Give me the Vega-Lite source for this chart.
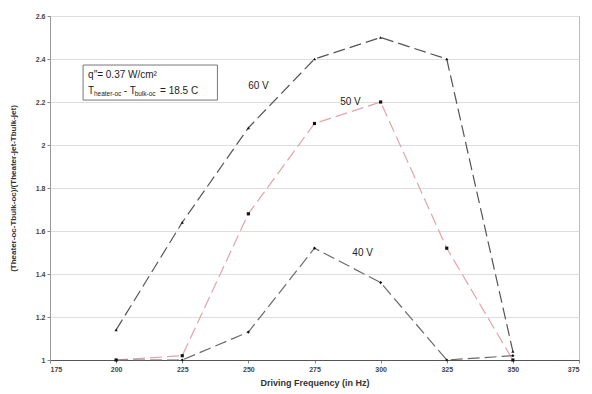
{
  "$schema": "https://vega.github.io/schema/vega-lite/v6.json",
  "width": 529,
  "height": 344,
  "autosize": {"type": "none"},
  "padding": {"left": 50, "top": 16, "right": 13, "bottom": 34},
  "background": "white",
  "config": {
    "view": {"stroke": "#bbbbbb", "strokeWidth": 1},
    "font": "Liberation Sans",
    "axis": {
      "labelFont": "Liberation Sans",
      "labelFontWeight": "bold",
      "labelFontSize": 7,
      "labelColor": "#444444",
      "titleFont": "Liberation Sans",
      "titleFontWeight": "bold",
      "titleColor": "#333333",
      "tickColor": "#888888",
      "tickSize": 3
    }
  },
  "datasets": {
    "series": [
      {"freq": 200, "ratio": 1.14, "series": "60 V"},
      {"freq": 225, "ratio": 1.64, "series": "60 V"},
      {"freq": 250, "ratio": 2.08, "series": "60 V"},
      {"freq": 275, "ratio": 2.4, "series": "60 V"},
      {"freq": 300, "ratio": 2.5, "series": "60 V"},
      {"freq": 325, "ratio": 2.4, "series": "60 V"},
      {"freq": 350, "ratio": 1.04, "series": "60 V"},
      {"freq": 200, "ratio": 1.0, "series": "50 V"},
      {"freq": 225, "ratio": 1.02, "series": "50 V"},
      {"freq": 250, "ratio": 1.68, "series": "50 V"},
      {"freq": 275, "ratio": 2.1, "series": "50 V"},
      {"freq": 300, "ratio": 2.2, "series": "50 V"},
      {"freq": 325, "ratio": 1.52, "series": "50 V"},
      {"freq": 350, "ratio": 1.0, "series": "50 V"},
      {"freq": 200, "ratio": 1.0, "series": "40 V"},
      {"freq": 225, "ratio": 1.0, "series": "40 V"},
      {"freq": 250, "ratio": 1.13, "series": "40 V"},
      {"freq": 275, "ratio": 1.52, "series": "40 V"},
      {"freq": 300, "ratio": 1.36, "series": "40 V"},
      {"freq": 325, "ratio": 1.0, "series": "40 V"},
      {"freq": 350, "ratio": 1.02, "series": "40 V"}
    ],
    "labels": [
      {"freq": 253.8, "ratio": 2.274, "text": "60 V"},
      {"freq": 288.6, "ratio": 2.2, "text": "50 V"},
      {"freq": 293.2, "ratio": 1.498, "text": "40 V"}
    ],
    "box": [
      {"x1": 187.5, "x2": 238.3, "y1": 2.209, "y2": 2.372}
    ],
    "boxText": [
      {"freq": 189.4, "ratio": 2.326, "text": "q″= 0.37 W/cm²"},
      {"freq": 189.4, "ratio": 2.251, "text": "T"},
      {"freq": 202.9, "ratio": 2.251, "text": "- T"},
      {"freq": 216.6, "ratio": 2.251, "text": "= 18.5 C"}
    ],
    "boxSub": [
      {"freq": 191.6, "ratio": 2.236, "text": "heater-oc"},
      {"freq": 207.0, "ratio": 2.236, "text": "bulk-oc"}
    ]
  },
  "layer": [
    {
      "data": {"name": "series"},
      "mark": {"type": "line", "strokeDash": [12, 5], "strokeWidth": 1.2},
      "encoding": {
        "x": {
          "field": "freq", "type": "quantitative",
          "scale": {"domain": [175, 375], "nice": false},
          "axis": {
            "values": [175, 200, 225, 250, 275, 300, 325, 350, 375],
            "title": "Driving Frequency (in Hz)",
            "titleFontSize": 9,
            "titlePadding": 6,
            "grid": false,
            "domainColor": "#555555",
            "domainWidth": 1.2
          }
        },
        "y": {
          "field": "ratio", "type": "quantitative",
          "scale": {"domain": [1, 2.6], "nice": false, "zero": false},
          "axis": {
            "values": [1, 1.2, 1.4, 1.6, 1.8, 2, 2.2, 2.4, 2.6],
            "format": "~g",
            "title": "(Theater-oc-Tbulk-oc)/(Theater-jet-Tbulk-jet)",
            "titleFontSize": 8,
            "titlePadding": 18,
            "grid": true,
            "gridColor": "#dddddd",
            "domainColor": "#999999"
          }
        },
        "color": {
          "field": "series", "type": "nominal",
          "scale": {"domain": ["60 V", "50 V", "40 V"], "range": ["#555555", "#e3a3ab", "#6a6a6a"]},
          "legend": null
        },
        "detail": {"field": "series"}
      }
    },
    {
      "data": {"name": "series"},
      "mark": {"type": "point", "filled": true, "color": "#111111", "size": 10, "opacity": 1},
      "encoding": {
        "x": {"field": "freq", "type": "quantitative"},
        "y": {"field": "ratio", "type": "quantitative"},
        "shape": {
          "field": "series", "type": "nominal",
          "scale": {"domain": ["60 V", "50 V", "40 V"], "range": ["triangle-up", "square", "diamond"]},
          "legend": null
        }
      }
    },
    {
      "data": {"name": "labels"},
      "mark": {"type": "text", "fontSize": 10, "color": "#222222", "align": "center", "baseline": "middle"},
      "encoding": {
        "x": {"field": "freq", "type": "quantitative"},
        "y": {"field": "ratio", "type": "quantitative"},
        "text": {"field": "text"}
      }
    },
    {
      "data": {"name": "box"},
      "mark": {"type": "rect", "fill": "white", "stroke": "#777777", "strokeWidth": 1},
      "encoding": {
        "x": {"field": "x1", "type": "quantitative"},
        "x2": {"field": "x2"},
        "y": {"field": "y1", "type": "quantitative"},
        "y2": {"field": "y2"}
      }
    },
    {
      "data": {"name": "boxText"},
      "mark": {"type": "text", "fontSize": 10, "color": "#222222", "align": "left", "baseline": "middle"},
      "encoding": {
        "x": {"field": "freq", "type": "quantitative"},
        "y": {"field": "ratio", "type": "quantitative"},
        "text": {"field": "text"}
      }
    },
    {
      "data": {"name": "boxSub"},
      "mark": {"type": "text", "fontSize": 6.5, "color": "#222222", "align": "left", "baseline": "middle"},
      "encoding": {
        "x": {"field": "freq", "type": "quantitative"},
        "y": {"field": "ratio", "type": "quantitative"},
        "text": {"field": "text"}
      }
    }
  ]
}
